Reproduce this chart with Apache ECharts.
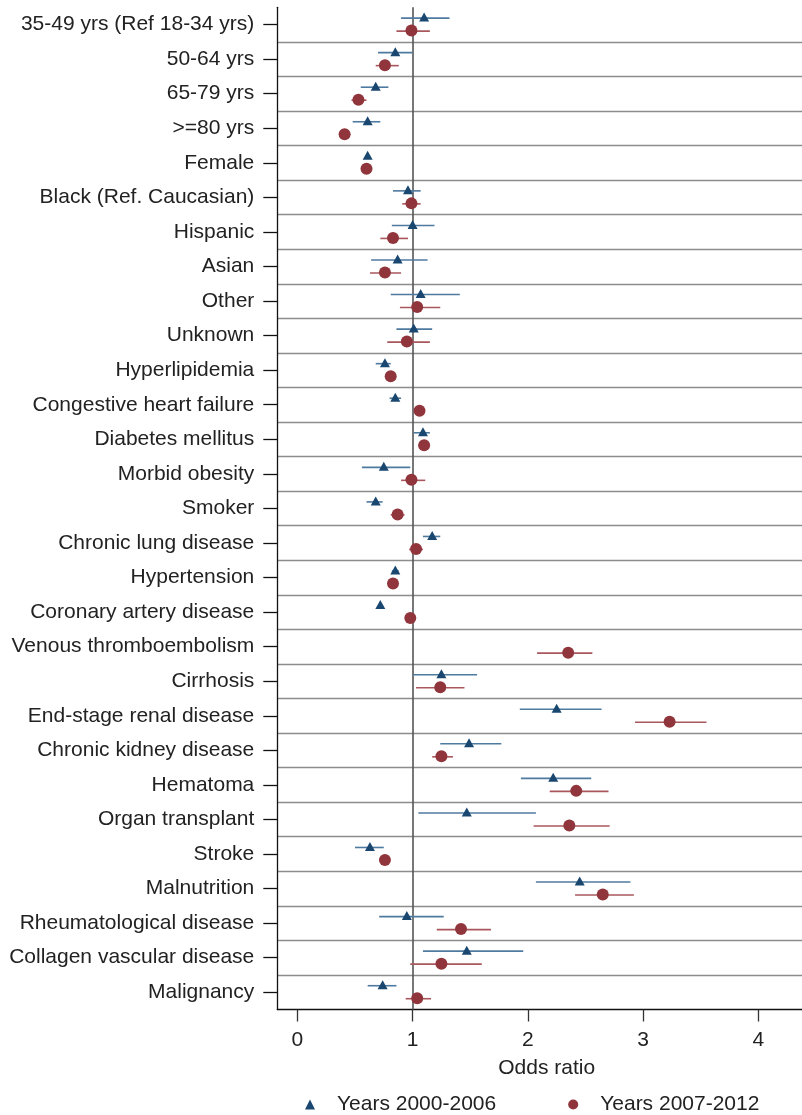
<!DOCTYPE html>
<html>
<head>
<meta charset="utf-8">
<script src="https://cdn.jsdelivr.net/npm/echarts@6/dist/echarts.min.js"></script>
<style>
html,body{margin:0;padding:0;background:#fff;}
#chart{width:802px;height:1115px;}
</style>
</head>
<body>
<div id="chart"></div>
<script>
const categories = [
  "35-49 yrs (Ref 18-34 yrs)", "50-64 yrs", "65-79 yrs", ">=80 yrs", "Female",
  "Black (Ref. Caucasian)", "Hispanic", "Asian", "Other", "Unknown",
  "Hyperlipidemia", "Congestive heart failure", "Diabetes mellitus", "Morbid obesity", "Smoker",
  "Chronic lung disease", "Hypertension", "Coronary artery disease", "Venous thromboembolism", "Cirrhosis",
  "End-stage renal disease", "Chronic kidney disease", "Hematoma", "Organ transplant", "Stroke",
  "Malnutrition", "Rheumatological disease", "Collagen vascular disease", "Malignancy"
];
// Years 2000-2006
const or1 = [1.10,0.85,0.68,0.61,0.61, 0.96,1.00,0.87,1.07,1.01, 0.76,0.85,1.09,0.75,0.68, 1.17,0.85,0.72,null,1.25, 2.25,1.49,2.22,1.47,0.63, 2.45,0.95,1.47,0.74];
const lo1 = [0.90,0.70,0.55,0.48,0.59, 0.83,0.82,0.64,0.81,0.86, 0.68,0.80,1.01,0.56,0.60, 1.09,0.82,0.70,null,1.00, 1.93,1.24,1.94,1.05,0.50, 2.07,0.71,1.09,0.61];
const hi1 = [1.32,1.00,0.79,0.72,0.63, 1.07,1.19,1.13,1.41,1.17, 0.81,0.90,1.15,0.98,0.74, 1.24,0.88,0.74,null,1.56, 2.64,1.77,2.55,2.07,0.75, 2.89,1.27,1.96,0.86];
// Years 2007-2012
const or2 = [0.99,0.76,0.53,0.41,0.60, 0.99,0.83,0.76,1.04,0.95, 0.81,1.06,1.10,0.99,0.87, 1.03,0.83,0.98,2.35,1.24, 3.23,1.25,2.42,2.36,0.76, 2.65,1.42,1.25,1.04];
const lo2 = [0.86,0.68,0.47,0.37,0.58, 0.91,0.72,0.63,0.89,0.78, 0.79,1.03,1.07,0.90,0.81, 0.97,0.81,0.96,2.08,1.03, 2.93,1.17,2.19,2.05,0.74, 2.41,1.21,0.98,0.94];
const hi2 = [1.15,0.88,0.60,0.46,0.62, 1.07,0.96,0.90,1.24,1.15, 0.84,1.10,1.13,1.11,0.93, 1.09,0.86,1.00,2.56,1.45, 3.55,1.35,2.70,2.71,0.78, 2.92,1.68,1.60,1.16];
const xTicks = [0, 1, 2, 3, 4];
const seriesNames = ["Years 2000-2006", "Years 2007-2012"];

const BLUE = "#1a476f", RED = "#90353b";
const FONT = "'Liberation Sans', Arial, Helvetica, sans-serif";

function ciData(lo, hi) {
  const out = [];
  categories.forEach((c, i) => { if (lo[i] != null) out.push([lo[i], i, hi[i]]); });
  return out;
}
function ptData(v) {
  const out = [];
  categories.forEach((c, i) => { if (v[i] != null) out.push([v[i], i]); });
  return out;
}
function ciRender(offset, color) {
  return function (params, api) {
    const a = api.coord([api.value(0), api.value(1)]);
    const b = api.coord([api.value(2), api.value(1)]);
    return {
      type: 'line',
      shape: { x1: a[0], y1: a[1] + offset, x2: b[0], y2: b[1] + offset },
      style: { stroke: color, lineWidth: 1.6 }
    };
  };
}

const chart = echarts.init(document.getElementById('chart'), null, { renderer: 'canvas' });
chart.setOption({
  animation: false,
  backgroundColor: '#fff',
  textStyle: { fontFamily: FONT },
  grid: { left: 277.3, top: 7.3, bottom: 105.5, right: 0, containLabel: false },
  xAxis: {
    type: 'value', min: -0.174, max: 4.379,
    axisLine: { show: true, onZero: false, lineStyle: { color: '#111', width: 1.3 } },
    axisTick: { show: true, length: 12, customValues: xTicks, lineStyle: { color: '#333', width: 1.3 } },
    axisLabel: { customValues: xTicks, fontSize: 21, color: '#222', margin: 20, fontFamily: FONT },
    splitLine: { show: false },
    name: 'Odds ratio', nameLocation: 'middle', nameGap: 48,
    nameTextStyle: { fontSize: 21, color: '#222', fontFamily: FONT, padding: [0, 0, 0, 14] }
  },
  yAxis: {
    type: 'category', data: categories, inverse: true,
    axisLine: { show: true, onZero: false, lineStyle: { color: '#111', width: 1.3 } },
    axisTick: { show: true, alignWithLabel: true, length: 14, lineStyle: { color: '#111', width: 1.3 } },
    axisLabel: { fontSize: 21, color: '#222', margin: 23, fontFamily: FONT },
    splitLine: { show: true, showMinLine: false, showMaxLine: false, lineStyle: { color: '#8c8c8c', width: 1.3 } }
  },
  legend: {
    data: seriesNames.map((n, i) => ({ name: n, icon: i === 0 ? 'triangle' : 'circle' })),
    left: 300, top: 1089, itemWidth: 10, itemHeight: 10, itemGap: 72,
    textStyle: { fontSize: 21, color: '#222', fontFamily: FONT, padding: [0, 0, 0, 17] }
  },
  series: [
    {
      name: 'ci1', type: 'custom', renderItem: ciRender(-6.5, '#4f7aa0'),
      data: ciData(lo1, hi1), z: 2, silent: true
    },
    {
      name: 'ci2', type: 'custom', renderItem: ciRender(6.5, '#a9575d'),
      data: ciData(lo2, hi2), z: 2, silent: true
    },
    {
      name: seriesNames[0], type: 'scatter', data: ptData(or1),
      symbol: 'triangle', symbolSize: [10, 9], symbolOffset: [0, -7.5],
      itemStyle: { color: BLUE, opacity: 1 }, z: 4,
      markLine: {
        silent: true, symbol: 'none', label: { show: false }, z: 1,
        lineStyle: { color: '#555', width: 1.6, type: 'solid' },
        data: [{ xAxis: 1 }]
      }
    },
    {
      name: seriesNames[1], type: 'scatter', data: ptData(or2),
      symbol: 'circle', symbolSize: 12, symbolOffset: [0, 6],
      itemStyle: { color: RED, opacity: 1 }, z: 4
    }
  ]
});
</script>
</body>
</html>
